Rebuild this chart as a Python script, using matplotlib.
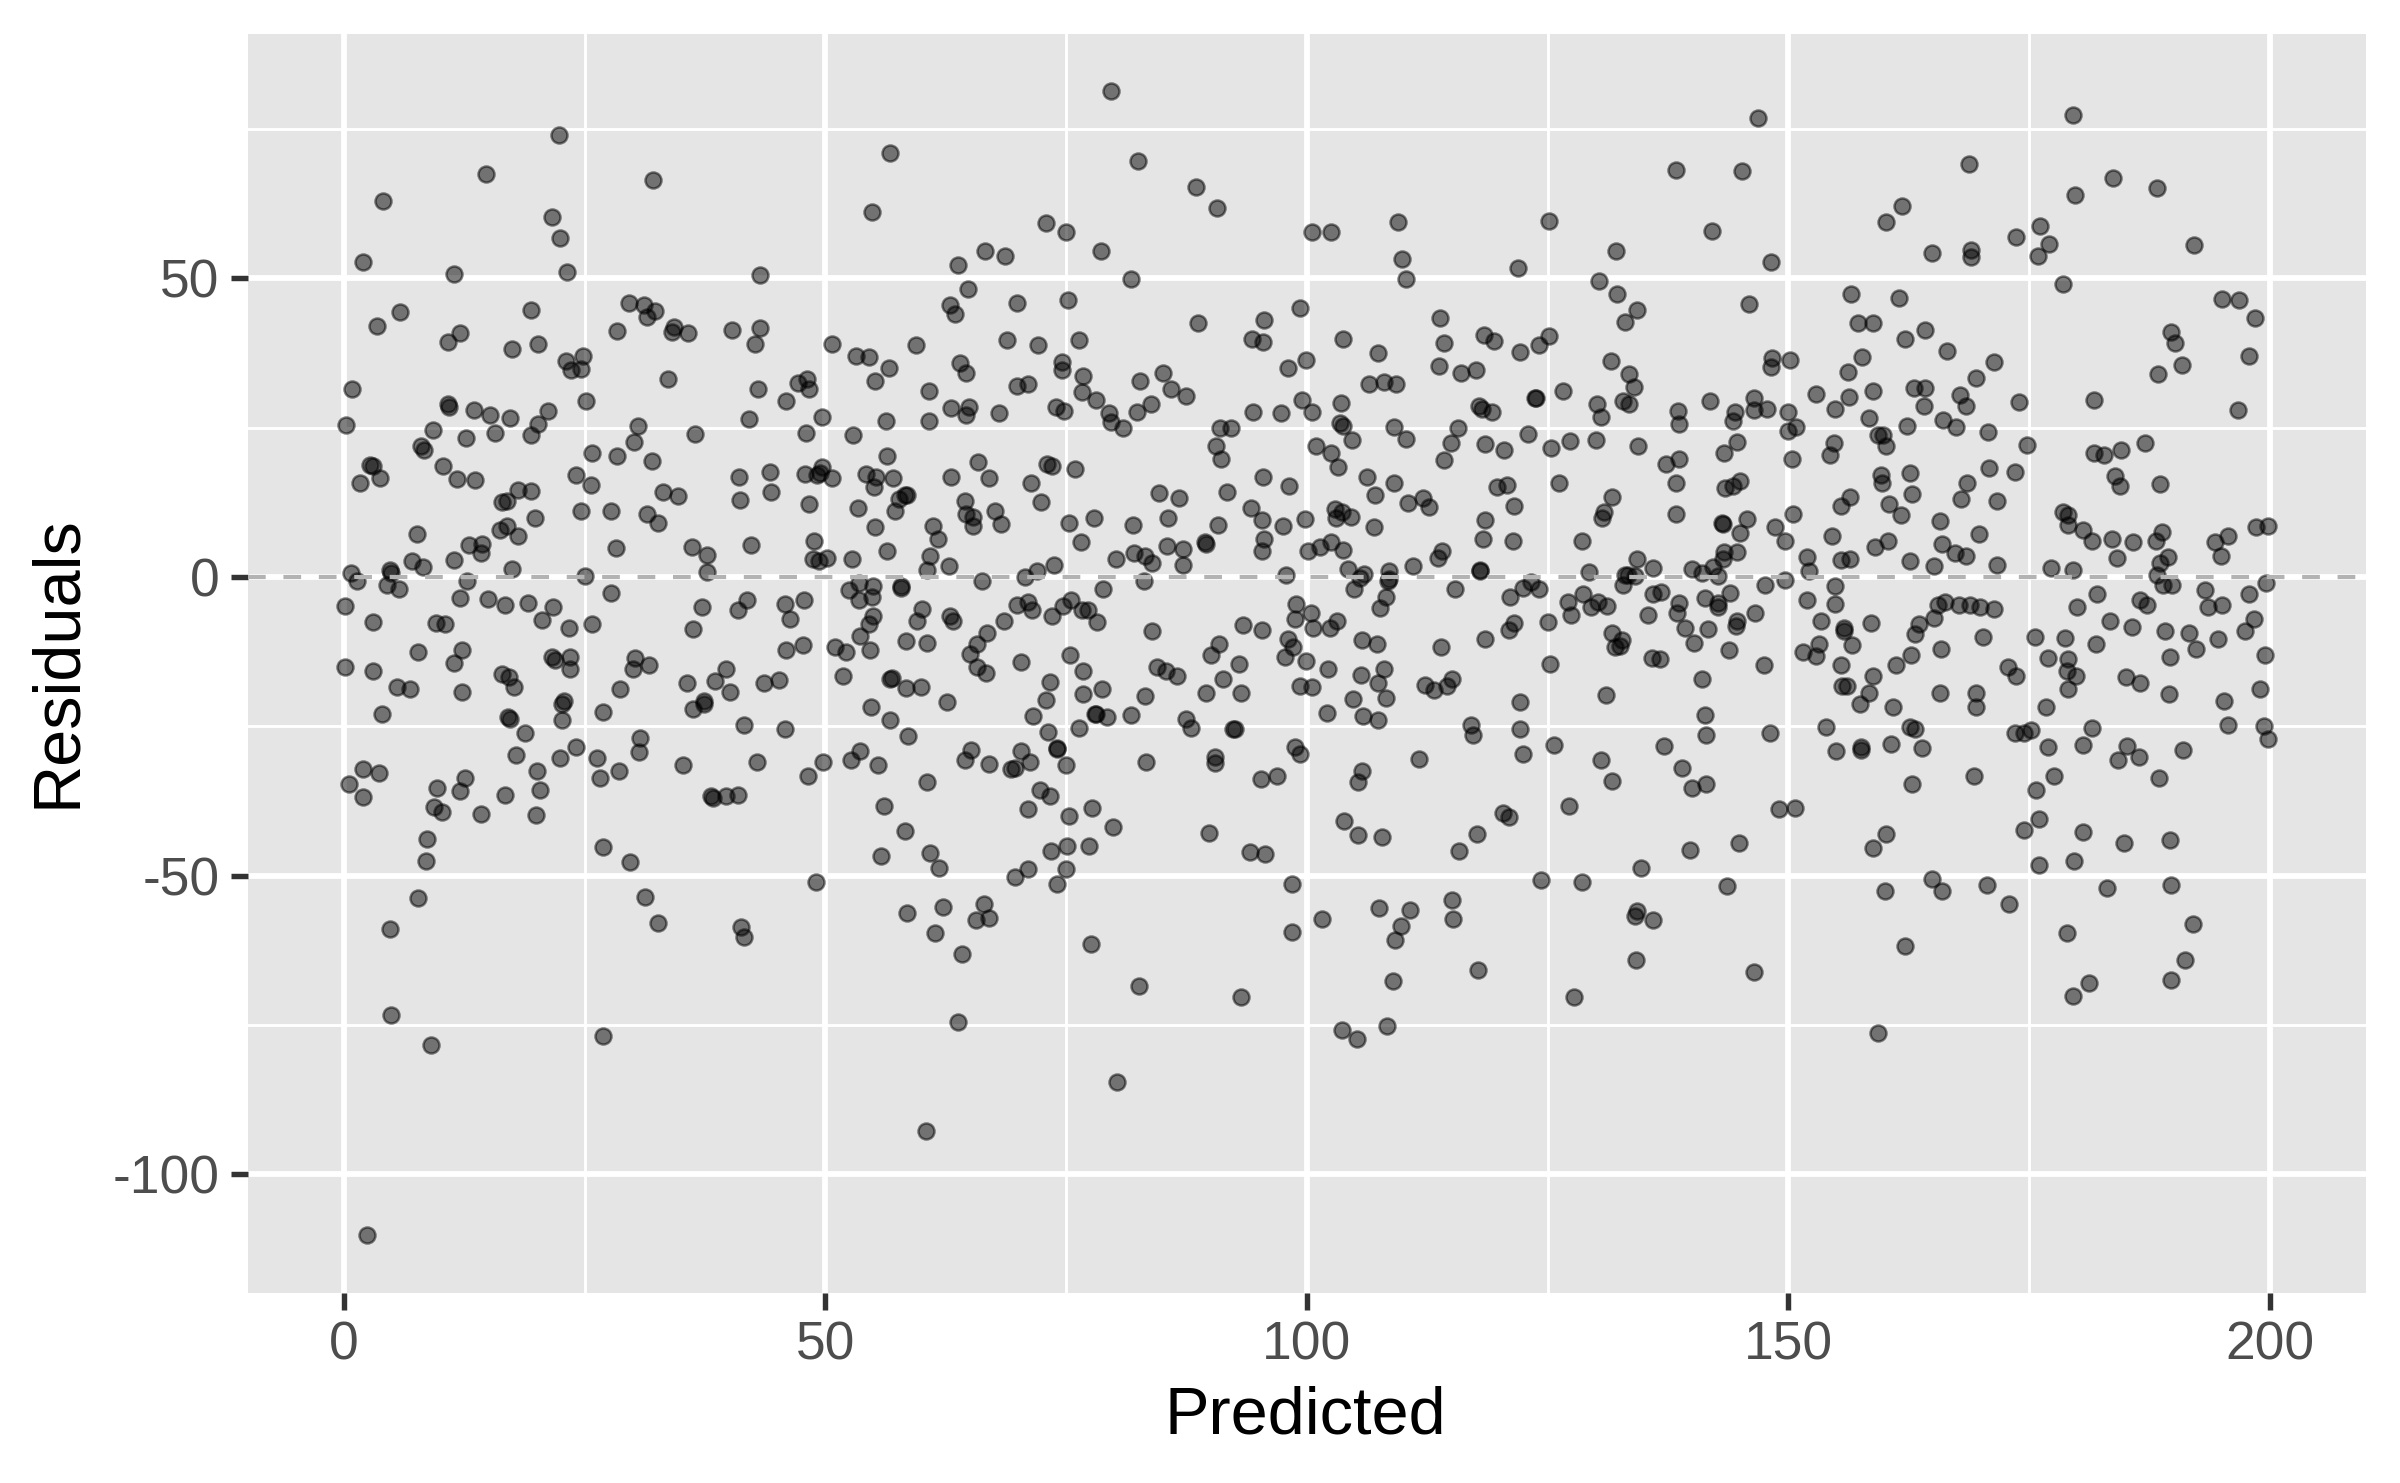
import matplotlib
matplotlib.use("Agg")
import matplotlib.pyplot as plt

# (predicted, residual) pairs
points_0_to_58 = [
(22.3,74.0),(14.8,67.5),(4.05,63.0),(32.1,66.4),(21.6,60.2),(22.4,56.8),(54.8,61.1),(56.7,71),(2.0,52.7),(11.4,50.7),
(23.2,51),(43.2,50.5),(5.8,44.3),(3.4,42),(19.4,44.7),(29.6,45.8),(31.2,45.5),(31.5,43.6),(32.3,44.6),(12,40.8),
(10.8,39.3),(17.5,38.1),(20.1,39),(28.4,41.2),(34.3,41.8),(34.1,41),(35.7,40.8),(40.3,41.4),(43.2,41.7),(42.7,39),
(50.7,39),(24.8,37),(23.1,36.2),(23.6,34.7),(24.6,34.9),(53.2,37),(54.5,36.8),(56.6,35),(55.2,32.9),(33.6,33.2),
(0.8,31.4),(25.1,29.4),(43,31.4),(47.2,32.4),(48.1,33.1),(48.3,31.5),(45.9,29.4),(10.8,29),(10.9,28.4),(13.5,27.9),
(15.2,27.1),(17.2,26.6),(21.2,27.8),(20.1,25.7),(0.2,25.4),(9.2,24.6),(30.5,25.2),(15.7,24.1),(19.4,23.8),(12.7,23.3),
(36.5,24),(42.1,26.4),(49.6,26.8),(48,24.1),(52.9,23.8),(56.3,26.2),(30.1,22.6),(8,21.9),(8.3,21.2),(25.8,20.8),
(28.4,20.2),(32,19.5),(56.4,20.2),(10.3,18.6),(2.7,18.8),(3.0,18.6),(1.7,15.8),(3.7,16.6),(11.7,16.4),(13.6,16.2),
(24.1,17.1),(25.7,15.4),(41,16.8),(44.2,17.5),(49.6,18.4),(47.9,17.2),(49.1,17.1),(49.4,17.4),(50.7,16.6),(54.2,17.2),
(55.3,16.7),(57,16.5),(55,15),(18.1,14.6),(19.4,14.4),(16.4,12.6),(16.9,12.8),(33.1,14.2),(34.7,13.5),(44.3,14.2),
(41.1,12.9),(48.3,12.2),(53.4,11.5),(57.6,13.1),(57.2,11),(19.8,9.9),(24.6,11.1),(27.7,11),(31.5,10.6),(32.6,9),
(16.9,8.6),(16.2,7.9),(18.1,6.8),(55.2,8.4),(7.6,7.2),(14.3,5.6),(13,5.4),(14.2,4.1),(28.2,4.8),(36.1,5),
(42.3,5.4),(48.8,6),(56.4,4.4),(37.7,3.6),(7.1,2.6),(11.4,2.8),(8.2,1.7),(17.4,1.4),(48.7,3),(49.3,2.6),
(50.2,3.1),(52.8,3),(37.7,0.9),(4.8,1.2),(4.9,0.6),(0.7,0.6),(1.4,-0.6),(25,0.2),(12.8,-0.7),(4.5,-1.3),
(5.7,-2),(52.4,-2.2),(53.5,-1),(54.9,-1.5),(54.8,-3.4),(53.5,-3.8),(27.7,-2.7),(12,-3.5),(15,-3.7),(16.7,-4.7),
(19.1,-4.3),(21.7,-5),(0.1,-4.9),(41.9,-3.8),(40.9,-5.5),(37.2,-5),(45.8,-4.5),(47.8,-3.9),(46.3,-7.1),(20.6,-7.2),
(3,-7.6),(9.6,-7.7),(10.5,-7.8),(23.4,-8.6),(25.8,-7.8),(36.2,-8.7),(54.9,-6.6),(54.5,-7.9),(53.6,-9.8),(47.7,-11.4),
(45.9,-12.3),(51,-11.8),(52.1,-12.5),(54.6,-12.3),(12.3,-12.2),(7.7,-12.6),(11.4,-14.4),(21.6,-13.4),(21.9,-13.9),(23.5,-13.4),
(23.5,-15.4),(30.2,-13.6),(30,-15.4),(31.7,-14.8),(0.1,-15),(3,-15.8),(16.4,-16.2),(17.1,-16.8),(17.7,-18.4),(39.7,-15.4),
(38.5,-17.4),(35.6,-17.8),(45.2,-17.3),(43.6,-17.8),(40.1,-19.2),(51.8,-16.5),(56.7,-17),(56.9,-16.9),(5.5,-18.5),(6.9,-18.8),
(12.3,-19.3),(28.7,-18.7),(22.6,-21.2),(22.9,-20.7),(37.4,-20.8),(37.4,-21.2),(36.2,-22.1),(54.7,-21.7),(3.9,-22.9),(26.9,-22.6),
(17,-23.4),(17.2,-23.7),(22.6,-24),(41.5,-24.8),(45.8,-25.4),(56.7,-24),(18.8,-26.2),(30.7,-27),(30.6,-29.3),(24.1,-28.5),
(17.9,-29.8),(22.4,-30.3),(26.3,-30.3),(53.6,-29.2),(52.7,-30.6),(55.5,-31.5),(49.8,-31),(42.9,-30.9),(35.2,-31.4),(20,-32.5),
(28.6,-32.5),(2,-32.1),(3.6,-32.9),(12.6,-33.6),(26.6,-33.6),(48.2,-33.3),(0.5,-34.7),(9.7,-35.4),(12.1,-35.8),(20.4,-35.7),
(16.7,-36.5),(2,-36.8),(38.1,-36.6),(38.3,-37),(39.7,-36.6),(40.9,-36.5),(56.1,-38.4),(9.4,-38.5),(10.2,-39.4),(14.2,-39.7),
(19.9,-39.8),(8.6,-43.8),(26.9,-45.2),(29.7,-47.7),(8.5,-47.6),(55.8,-46.7),(49,-51.1),(7.7,-53.7),(31.3,-53.6),(32.6,-57.9),
(4.8,-58.9),(41.2,-58.6),(41.5,-60.2),(4.9,-73.4),(26.9,-76.9),(9,-78.4),(2.4,-110.2),
]

points_58_to_108 = [
(79.7,81.4),(82.5,69.7),(88.5,65.3),(90.7,61.8),(100.5,57.8),(102.5,57.8),(72.9,59.3),(75,57.8),(78.6,54.5),(81.7,49.9),
(66.6,54.5),(68.6,53.8),(63.8,52.2),(64.8,48.3),(62.9,45.5),(63.5,44.1),(69.9,45.9),(75.2,46.3),(88.7,42.6),(99.3,45),
(95.5,43),(94.3,39.9),(95.4,39.4),(59.4,38.9),(68.9,39.7),(72.1,38.9),(76.3,39.7),(103.8,39.8),(107.4,37.5),(99.9,36.4),
(98,35),(64,35.9),(64.6,34.2),(74.6,36),(74.6,34.7),(76.8,33.7),(85.1,34.2),(82.7,32.8),(85.9,31.5),(87.4,30.3),
(106.5,32.3),(108,32.6),(69.9,32),(71,32.3),(60.8,31.1),(76.6,31),(78.1,29.6),(99.5,29.6),(103.5,29.2),(63,28.3),
(64.9,28.4),(64.6,27.1),(68,27.4),(73.9,28.4),(74.8,27.8),(79.4,27.5),(79.7,26),(80.9,25),(82.4,27.7),(83.8,29),
(94.4,27.7),(97.3,27.4),(100.5,27.7),(60.8,26.1),(91,24.9),(92.1,24.9),(103.4,25.8),(103.8,25.3),(104.7,22.9),(90.6,22),
(91.1,19.8),(101,21.9),(102.5,20.7),(103.2,18.5),(65.8,19.3),(73,19),(73.5,18.6),(75.9,18),(63,16.7),(67,16.5),
(71.4,15.8),(95.4,16.8),(98.1,15.2),(106.2,16.8),(84.6,14),(86.7,13.2),(91.7,14.2),(107.1,13.8),(64.5,12.8),(72.4,12.5),
(58.5,13.7),(58.3,13.7),(67.6,11.1),(64.6,10.6),(65.3,10.1),(94.2,11.6),(95.3,9.6),(102.9,11.4),(103.6,10.8),(103,9.9),
(104.6,10.1),(61.2,8.6),(68.2,8.8),(65.3,8.6),(75.3,9.1),(77.9,9.9),(81.9,8.7),(85.6,9.8),(90.8,8.7),(89.4,5.8),
(89.5,5.5),(97.5,8.5),(99.8,9.7),(107,8.4),(61.7,6.3),(76.5,5.9),(95.5,6.3),(60.9,3.5),(85.5,5.2),(87.1,4.7),
(82,4.1),(83.2,3.5),(83.9,2.4),(95.3,4.3),(102.5,5.9),(101.4,5),(100.1,4.4),(103.8,4.6),(80.2,3),(87.1,2),
(62.8,1.9),(60.5,1.2),(73.7,2),(72,1),(70.7,0),(97.8,.4),(104.3,1.3),(105.9,.5),(57.8,-1.5),(57.8,-1.9),
(66.3,-0.7),(83.1,-0.7),(78.8,-2),(105.5,-0.1),(104.9,-2),(108.5,-0.3),
(60,-5.4),(59.5,-7.4),(62.9,-6.6),(63.2,-7.4),(58.4,-10.7),(60.6,-11.1),(69.9,-4.7),(71,-4.2),(71.5,-5.6),(73.5,-6.6),
(74.7,-4.8),(75.5,-3.8),(76.6,-5.6),(77.3,-5.6),(78.2,-7.6),(68.5,-7.4),(66.8,-9.4),(65.7,-11.3),(65,-12.9),(65.7,-15),
(66.7,-16.1),(70.3,-14.3),(75.4,-13),(76.7,-15.7),(83.9,-9),(93.4,-8.1),(95.3,-8.8),(90.9,-11.3),(90,-13),(93,-14.5),
(91.3,-17.1),(89.5,-19.4),(93.2,-19.4),(84.4,-15.1),(85.4,-15.7),(86.5,-16.5),(83.2,-20),(58.4,-18.6),(59.9,-18.5),(62.6,-20.9),
(73.3,-17.6),(72.9,-20.6),(71.6,-23.2),(76.7,-19.6),(78.7,-18.7),(78,-23),(78.1,-23),(79.2,-23.4),(81.7,-23.1),(58.6,-26.7),
(76.3,-25.2),(73.1,-26),(74,-28.7),(74.1,-28.8),(75,-31.5),(65.1,-29),(64.5,-30.6),(67,-31.3),(70.3,-29.2),(71.2,-30.9),
(69.3,-32.1),(69.7,-31.9),(60.5,-34.4),(72.3,-35.6),(73.3,-36.6),(71,-38.8),(87.4,-23.8),(88,-25.3),(92.3,-25.5),(92.5,-25.5),
(83.3,-31),(90.5,-30.1),(90.5,-31.2),(95.2,-33.8),(96.9,-33.3),(77.7,-38.6),(75.3,-40.1),(79.9,-41.8),(58.3,-42.5),(75.1,-45),
(77.4,-45),(73.4,-45.9),(60.9,-46.2),(61.8,-48.8),(71,-48.9),(75,-48.9),(69.7,-50.3),(74,-51.4),(89.8,-42.8),(94.1,-46.1),
(95.7,-46.3),(98.5,-51.4),(62.2,-55.2),(58.5,-56.3),(66.5,-54.7),(67,-57.1),(65.6,-57.5),(61.4,-59.6),(64.2,-63.2),(77.6,-61.5),
(98.5,-59.4),(101.6,-57.2),(63.8,-74.5),(82.6,-68.5),(93.2,-70.3),(80.3,-84.5),(60.4,-92.7),(98.9,-4.5),(98.8,-7),(100.4,-6.1),
(100.6,-8.6),(102.4,-8.5),(103.1,-7.3),(98,-10.4),(98.6,-11.8),(97.7,-13.4),(99.9,-14),(99.3,-18.2),(100.5,-18.4),(102.2,-15.4),
(105.7,-10.6),(107.3,-11.2),(107.6,-5.2),(105.6,-16.4),(107.4,-17.7),(108,-15.4),(104.8,-20.5),(108.2,-20.2),(102.1,-22.8),(105.8,-23.3),
(107.4,-23.9),(98.8,-28.5),(99.3,-29.6),(105.7,-32.5),(105.3,-34.4),(103.9,-40.8),(105.3,-43.2),(107.8,-43.5),(107.5,-55.4),(108.9,-67.7),
(103.6,-75.8),(105.2,-77.4),(108.3,-75.2),(108.2,-3.3),
]

points_108_to_160 = [
(146.9,76.8),(138.3,68.2),(145.2,67.9),(109.5,59.4),(125.2,59.6),(142.1,57.9),(132.1,54.5),(148.2,52.7),(109.9,53.2),(110.3,49.9),
(121.9,51.8),(130.3,49.6),(132.2,47.4),(134.3,44.7),(133,42.7),(145.9,45.7),(156.5,47.3),(157.2,42.5),(158.8,42.5),(113.8,43.4),
(114.2,39.1),(118.4,40.6),(119.4,39.5),(122.1,37.7),(124.1,38.9),(125.2,40.3),(113.7,35.4),(116,34.1),(117.6,34.6),(131.6,36.1),
(133.5,34),(134,31.8),(148.3,36.6),(148.2,35.2),(150.2,36.3),(157.7,36.9),(156.2,34.3),(109.3,32.3),(123.7,30),(123.8,29.9),
(126.6,31.1),(152.9,30.6),(156.3,30.2),(158.8,31.1),(117.9,28.7),(118.2,28.2),(119.2,27.6),(130.1,28.9),(130.6,26.8),(132.8,29.5),
(133.5,28.9),(141.9,29.4),(146.4,30),(146.4,28),(147.8,28.1),(138.5,27.8),(138.6,25.7),(144.5,27.7),(144.3,26.1),(150,27.6),
(154.9,28.1),(158.4,26.6),(109.1,25.1),(110.3,23.1),(115.7,25),(115,22.5),(114.2,19.6),(118.5,22.2),(120.5,21.2),(123,24),
(125.4,21.6),(127.3,22.7),(130,23),(134.4,21.9),(150.8,25.1),(150,24.4),(150.4,19.7),(144.7,22.6),(143.3,20.8),(138.7,19.7),
(137.3,18.9),(154.8,22.5),(154.3,20.4),(159.3,23.7),(138.3,15.7),(109,15.8),(112.1,13.3),(110.5,12.4),(112.7,11.8),(119.8,15),
(120.8,15.4),(126.2,15.7),(121.5,11.9),(131.7,13.4),(130.9,10.9),(130.7,9.8),(145,16),(144.3,15.2),(143.4,14.9),(156.4,13.4),
(155.5,11.9),(138.3,10.5),(150.5,10.5),(145.7,9.7),(143.1,9.1),(143.2,8.8),(148.6,8.4),(145,7.3),(149.7,6.1),(118.5,9.6),
(118.3,6.4),(121.4,6.1),(128.6,6.1),(154.5,6.9),(159,5.1),(114,4.4),(113.6,3.1),(144.7,4.2),(143.3,4.2),(143.2,3),
(134.3,3),(136,1.5),(151.9,3.3),(155.5,2.9),(156.4,3),(152.1,1),(111,1.8),(108.5,1),(118,1),(118,1.1),
(129.3,.8),(140,1.4),(142.2,1.7),(141,.7),(142.7,.1),(133,.3),(133.4,.4),(134.1,.2),(123.3,-0.8),(149.7,-0.5),
(147.6,-1.3),(154.9,-1.5),(132.8,-1.3),(115.4,-2),(108.4,-.6),
(121.1,-3.3),(122.5,-1.9),(124.1,-2),(127.1,-4.2),(128.7,-2.8),(130.2,-4.2),(129.5,-5.1),(131.2,-4.9),(127.4,-6.3),(136,-2.9),
(136.8,-2.5),(138.6,-4.3),(138.4,-6.1),(135.4,-6.3),(141.3,-3.5),(142.7,-4.4),(142.7,-5.1),(143.9,-2.6),(151.9,-3.8),(154.9,-4.5),
(146.5,-6.1),(144.7,-7.4),(144.6,-8.2),(125,-7.6),(121.5,-7.7),(121,-8.9),(118.5,-10.4),(113.9,-11.8),(139.3,-8.6),(141.7,-8.7),
(140.2,-11),(143.8,-12.3),(153.4,-7.3),(155.8,-8.6),(155.8,-9.1),(158.6,-7.7),(153.2,-11.3),(151.5,-12.6),(152.9,-13.3),(156.6,-11.4),
(155.5,-14.7),(131.7,-9.3),(132.7,-10.6),(132,-11.7),(132.5,-11.6),(135.8,-13.5),(136.7,-13.7),(125.3,-14.5),(147.5,-14.7),(141,-17.1),
(158.8,-16.6),(155.6,-18.3),(156.1,-18.2),(158.4,-19.4),(157.4,-21.2),(112.3,-18),(113.2,-18.9),(114.6,-18.2),(115.1,-17.1),(131.1,-19.7),
(122.1,-20.9),(141.3,-23.1),(141.5,-26.4),(148.1,-26.2),(153.9,-25.1),(117.1,-24.8),(117.3,-26.4),(122.1,-25.5),(122.4,-29.6),(125.7,-28.1),
(137.1,-28.3),(130.6,-30.7),(111.6,-30.4),(155,-29.1),(157.6,-28.5),(157.6,-29),(139,-31.9),(131.7,-34.1),(141.5,-34.7),(140,-35.4),
(127.2,-38.3),(120.4,-39.5),(121,-40.2),(117.7,-43.1),(115.8,-45.9),(149,-38.8),(150.7,-38.6),(144.9,-44.6),(139.8,-45.7),(158.8,-45.4),
(134.7,-48.8),(124.3,-50.7),(128.6,-51.1),(143.6,-51.8),(110.7,-55.8),(115.1,-54),(115.2,-57.2),(109.8,-58.5),(109.2,-60.7),(134.3,-55.9),
(134.1,-56.7),(135.9,-57.5),(134.2,-64.2),(117.8,-65.8),(146.4,-66.2),(127.7,-70.4),(159.3,-76.3),
]

points_160_to_200 = [
(179.6,77.4),(168.8,69.2),(183.7,66.8),(179.8,64),(188.3,65.2),(161.8,62.1),(160.1,59.5),(176.1,58.7),(173.7,57),(177.1,55.8),
(175.9,53.8),(192.1,55.6),(164.9,54.2),(169,54.7),(169,53.6),(178.5,49),(161.5,46.7),(195,46.6),(196.8,46.3),(198.5,43.4),
(189.7,41),(190.2,39.1),(162.1,39.8),(164.2,41.3),(166.5,37.9),(171.4,36),(169.5,33.4),(190.9,35.5),(188.4,34),(197.9,37),
(163.1,31.7),(164.2,31.7),(167.8,30.5),(168.5,28.7),(164.1,28.7),(174,29.3),(181.7,29.6),(196.7,28),(166.1,26.3),(167.4,25.1),
(162.3,25.2),(170.7,24.3),(159.8,23.8),(160.2,21.9),(174.8,22.1),(187,22.4),(184.6,21.3),(181.7,20.7),(182.8,20.4),(159.6,17),
(159.7,15.8),(162.6,17.4),(170.8,18.2),(173.5,17.5),(168.6,15.7),(183.9,16.9),(184.5,15.2),(188.6,15.6),(162.9,13.9),(160.5,12.3),
(167.9,13.1),(171.7,12.7),(161.7,10.4),(165.8,9.4),(169.8,7.2),(178.5,10.9),(179,10.4),(179.1,8.7),(180.6,7.9),(181.5,6),
(183.6,6.3),(185.8,5.8),(188.8,7.5),(188.2,6),(189.4,3.3),(188.6,2.3),(184.1,3.2),(160.4,6),(166,5.5),(167.3,4.1),
(168.5,3.5),(162.6,2.7),(165.1,1.8),(171.7,2),(177.3,1.5),(179.6,1.2),(188.3,.4),(188.9,-1.3),(189.9,-1.3),(198.6,8.4),
(199.8,8.6),(195.7,6.9),(194.3,5.9),(194.9,3.5),
(193.3,-2.2),(199.6,-1),(197.9,-2.9),(195,-4.7),(193.6,-5.1),(182.1,-2.9),(180,-5.1),(186.5,-3.8),(187.3,-4.7),(183.4,-7.3),
(185.7,-8.4),(189.1,-9.1),(191.6,-9.4),(198.4,-7),(197.4,-9),(194.6,-10.3),(192.3,-12.1),(189.6,-13.4),(199.5,-13),(175.6,-10.1),
(178.7,-10.2),(182,-11.3),(177,-13.6),(179.1,-13.8),(178.9,-15.7),(179.9,-16.6),(179,-18.8),(185.1,-16.8),(186.5,-17.8),(189.5,-19.6),
(199,-18.7),(195.3,-20.8),(176.8,-21.8),(172.8,-15.1),(173.7,-16.6),(170.2,-10),(165.9,-12),(162.7,-13),(161.2,-14.8),(165.8,-19.4),
(169.5,-19.4),(169.5,-21.8),(160.9,-21.8),(163.2,-9.5),(163.6,-7.9),(165.1,-6.8),(165.6,-4.7),(166.3,-4.2),(167.7,-4.7),(168.9,-4.7),
(169.9,-5),(171.4,-5.3),(162.6,-25.1),(163.2,-25.5),(160.7,-27.9),(163.9,-28.7),(162.8,-34.6),(169.3,-33.3),(181.5,-25.2),(173.5,-26.2),
(174.5,-26.1),(175.2,-25.6),(177,-28.5),(180.6,-28.2),(185.2,-28.3),(186.4,-30.2),(184.2,-30.7),(191,-29),(188.5,-33.6),(195.7,-24.7),
(199.4,-25),(199.8,-27.2),(177.6,-33.3),(175.7,-35.7),(176,-40.5),(174.5,-42.4),(160.2,-43),(180.6,-42.7),(184.9,-44.5),(189.6,-44),
(176,-48.2),(179.7,-47.6),(164.9,-50.5),(166,-52.6),(160,-52.6),(170.6,-51.5),(172.9,-54.8),(183.1,-52.1),(189.7,-51.6),(178.9,-59.6),
(162.1,-61.8),(192,-58.1),(191.2,-64.1),(181.2,-67.9),(179.6,-70.1),(189.7,-67.4),
]

x_ticks = [0, 50, 100, 150, 200]
x_minor = [25, 75, 125, 175]
y_ticks = [-100, -50, 0, 50]
y_minor = [-75, -25, 25, 75]
x_labels = ["0", "50", "100", "150", "200"]
y_labels = ["-100", "-50", "0", "50"]

all_points = points_0_to_58 + points_58_to_108 + points_108_to_160 + points_160_to_200
predicted = [p[0] for p in all_points]
residuals = [p[1] for p in all_points]

plt.rcParams["font.family"] = ["Liberation Sans", "DejaVu Sans"]
plt.rcParams["lines.scale_dashes"] = False

W, H = 2400, 1483
fig = plt.figure(figsize=(W / 300, H / 300), dpi=300, facecolor="white")
ax = fig.add_axes([247.7 / W, 1 - 1292.5 / H, (2366 - 247.7) / W, (1292.5 - 33.5) / H])
ax.set_facecolor("#E5E5E5")
for s in ax.spines.values():
    s.set_visible(False)
ax.set_xlim(-10, 210)
ax.set_ylim(-119.8, 91)

ax.set_xticks(x_ticks)
ax.set_xticklabels(x_labels)
ax.set_yticks(y_ticks)
ax.set_yticklabels(y_labels)
ax.set_xticks(x_minor, minor=True)
ax.set_yticks(y_minor, minor=True)
ax.tick_params(axis="both", which="major", length=4.1, width=1.3, color="#333333",
               labelcolor="#4D4D4D", labelsize=12.8, pad=2.6)
ax.tick_params(axis="both", which="minor", length=0)
ax.set_axisbelow(True)
ax.grid(True, which="major", color="white", linewidth=1.4)
ax.grid(True, which="minor", color="white", linewidth=0.7)

ax.scatter(predicted, residuals, s=14.7, color="black", alpha=0.5, linewidths=0.6, zorder=2)
ax.axhline(0, color="#B3B3B3", linewidth=1.0, linestyle=(0, (4.25, 4.25)),
           dash_capstyle="butt", zorder=3)

ax.set_xlabel("Predicted", fontsize=16, color="black")
ax.set_ylabel("Residuals", fontsize=16, color="black")
ax.xaxis.set_label_coords((1305 - 247.7) / (2366 - 247.7), -(1416 - 1292.5) / (1292.5 - 33.5))
ax.xaxis.label.set_verticalalignment("center")
ax.yaxis.set_label_coords(-(247.7 - 58) / (2366 - 247.7), (1292.5 - 662) / (1292.5 - 33.5))
ax.yaxis.label.set_verticalalignment("center")

fig.savefig("out.png", dpi=300, facecolor="white")
